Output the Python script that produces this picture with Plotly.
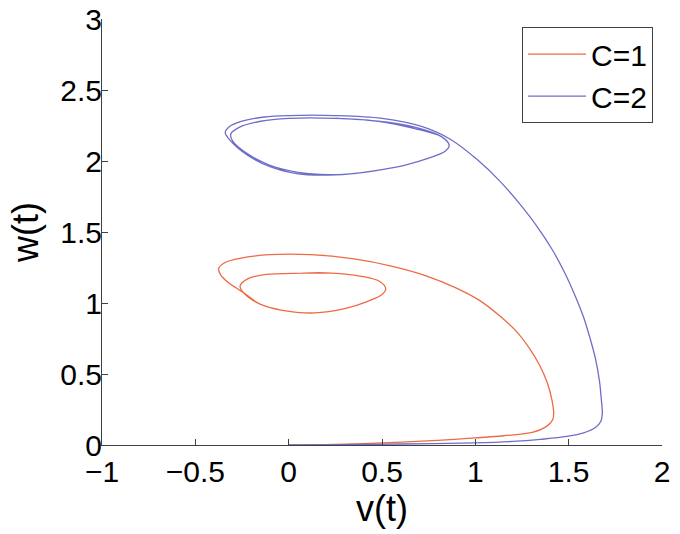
import plotly.graph_objects as go

# C=1 trajectory (v, w)
v_c1 = [0.0, 0.2, 0.5, 0.8, 1.0, 1.15, 1.31, 1.39, 1.415, 1.42, 1.41, 1.385, 1.345, 1.29, 1.22,
        1.13, 1.02, 0.89, 0.74, 0.55, 0.35, 0.12, -0.10, -0.26, -0.34, -0.375, -0.365, -0.32, -0.25,
        -0.15, -0.04, 0.14, 0.30, 0.42, 0.50, 0.52, 0.49, 0.38, 0.23, 0.07, -0.13, -0.22, -0.26,
        -0.24, -0.15, -0.04, 0.14, 0.30, 0.42, 0.50, 0.52, 0.49, 0.38, 0.23, 0.07]
w_c1 = [0.0, 0.003, 0.015, 0.033, 0.05, 0.065, 0.09, 0.14, 0.18, 0.22, 0.32, 0.44, 0.56, 0.68, 0.80,
        0.91, 1.02, 1.11, 1.19, 1.26, 1.31, 1.34, 1.34, 1.315, 1.285, 1.245, 1.20, 1.14, 1.08,
        0.99, 0.95, 0.93, 0.96, 1.01, 1.06, 1.10, 1.15, 1.19, 1.21, 1.21, 1.20, 1.17, 1.12,
        1.07, 0.99, 0.95, 0.93, 0.96, 1.01, 1.06, 1.10, 1.15, 1.19, 1.21, 1.21]

# C=2 trajectory (v, w)
v_c2 = [0.0, 0.3, 0.6, 1.0, 1.2, 1.35, 1.49, 1.58, 1.645, 1.672, 1.68, 1.675, 1.665, 1.645, 1.615,
        1.58, 1.535, 1.48, 1.41, 1.33, 1.23, 1.13, 1.01, 0.87, 0.72, 0.50, 0.25, 0.0, -0.13,
        -0.25, -0.32, -0.34, -0.31, -0.22, -0.10, 0.05, 0.17, 0.33, 0.50, 0.62, 0.75, 0.84, 0.86,
        0.82, 0.67, 0.48, 0.25, 0.0, -0.15, -0.26, -0.31, -0.30, -0.22, -0.10, 0.05, 0.17, 0.33,
        0.50, 0.62, 0.75, 0.84, 0.86, 0.82, 0.67, 0.48, 0.25]
w_c2 = [0.0, 0.002, 0.007, 0.015, 0.025, 0.04, 0.06, 0.085, 0.125, 0.165, 0.22, 0.32, 0.45, 0.60, 0.75,
        0.90, 1.05, 1.21, 1.38, 1.54, 1.71, 1.86, 2.01, 2.15, 2.24, 2.30, 2.32, 2.32, 2.31,
        2.28, 2.24, 2.20, 2.14, 2.04, 1.96, 1.91, 1.90, 1.91, 1.94, 1.97, 2.02, 2.07, 2.11,
        2.17, 2.24, 2.28, 2.30, 2.30, 2.28, 2.24, 2.19, 2.14, 2.05, 1.97, 1.92, 1.905, 1.91,
        1.94, 1.97, 2.02, 2.07, 2.11, 2.17, 2.23, 2.28, 2.30]

x_ticks = [-1, -0.5, 0, 0.5, 1, 1.5, 2]
x_labels = ["−1", "−0.5", "0", "0.5", "1", "1.5", "2"]
y_ticks = [0, 0.5, 1, 1.5, 2, 2.5, 3]
y_labels = ["0", "0.5", "1", "1.5", "2", "2.5", "3"]

FONT = "Liberation Sans, Arial, Helvetica, sans-serif"

fig = go.Figure()
fig.add_trace(go.Scatter(x=v_c1, y=w_c1, mode="lines", name="C=1",
                         line=dict(color="#EE6A45", width=1.3, shape="spline")))
fig.add_trace(go.Scatter(x=v_c2, y=w_c2, mode="lines", name="C=2",
                         line=dict(color="#6E6EC8", width=1.3, shape="spline")))

axis_common = dict(ticks="inside", ticklen=6, tickcolor="#404040", showline=True,
                   linecolor="#404040", linewidth=1, showgrid=False, zeroline=False,
                   mirror=False, automargin=False, tickfont=dict(size=30))

fig.update_layout(
    width=680, height=534,
    margin=dict(l=102, r=18, t=19, b=89),
    paper_bgcolor="white", plot_bgcolor="white",
    font=dict(family=FONT, size=30, color="black"),
    showlegend=True,
    legend=dict(x=0.984, y=0.981, xanchor="right", yanchor="top",
                bgcolor="white", bordercolor="#404040", borderwidth=1,
                font=dict(family=FONT, size=30, color="black"),
                tracegroupgap=0, itemwidth=58),
    xaxis=dict(range=[-1, 2], tickvals=x_ticks, ticktext=x_labels, ticklabelstandoff=0,
               title=dict(text="v(t)", standoff=0), **axis_common),
    yaxis=dict(range=[0, 3], tickvals=y_ticks, ticktext=y_labels, ticklabelstandoff=-7,
               title=dict(text="w(t)", standoff=10), **axis_common),
)

fig.write_html("out.html", post_script="document.body.style.margin='0px';",
               config={"displayModeBar": False})
